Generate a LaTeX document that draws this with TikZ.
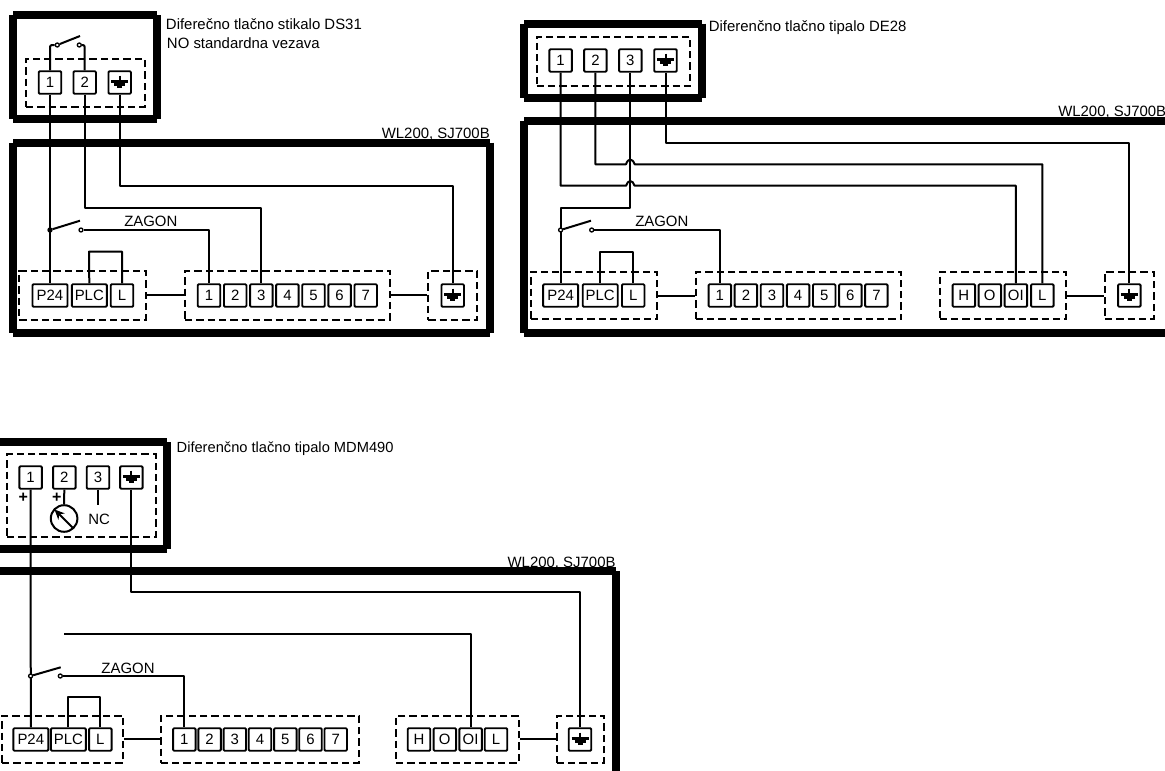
\documentclass[tikz,border=0pt]{standalone}
\usepackage{fontspec}
\setmainfont{Liberation Sans}
\usetikzlibrary{arrows.meta}
\def\px{0.75pt}
\tikzset{
  wire/.style={line width=2*\px,line join=round,black},
  heavy/.style={line width=8*\px,line cap=butt,black},
  grpbox/.style={draw=black,line width=2*\px,dash pattern=on 5.5pt off 3pt,inner sep=0,rectangle},
  term/.style={draw=black,fill=white,line width=1.9*\px,rounded corners=0.8pt,inner sep=0,minimum height=22.5*\px,minimum width=22.5*\px,font=\fontsize{11.2}{13}\selectfont},
  wterm/.style={term,minimum width=35*\px},
  contact/.style={circle,draw=black,fill=white,line width=1.3*\px,inner sep=0,minimum size=4*\px},
  lab/.style={inner sep=0,font=\fontsize{11.2}{13}\selectfont,black},
  gnd/.pic={
    \draw[line width=2*\px] (0,-7) -- (0,3);
    \draw[line width=2.8*\px] (-8.5,-1) -- (8.5,-1);
    \draw[line width=2.6*\px] (-5.5,1.8) -- (5.5,1.8);
    \draw[line width=2.4*\px] (-2.5,4.4) -- (2.5,4.4);
  }
}
\newcommand\hvybox[4]{%
  \draw[heavy] (#1,#2) -- (#3,#2);
  \draw[heavy] (#1,#4) -- (#3,#4);
  \draw[heavy] (#1,#2) -- (#1,#4);
  \draw[heavy] (#3,#2) -- (#3,#4);}
\newcommand\grp[5]{\node[grpbox,minimum width={(#4-#2)*\px},minimum height={(#5-#3)*\px}] (#1) at ({(#2+#4)/2},{(#3+#5)/2}) {};}
\begin{document}
\begin{tikzpicture}[x=0.75pt,y=-0.75pt]
\useasboundingbox (0,0) rectangle (1165,771);
\clip (0,0) rectangle (1165,771);
% ---------- panel A ----------
\node[lab,anchor=east] (aw) at (490,134.5) {WL200, SJ700B};
\node[lab,anchor=west] (at1) at (165.7,24) {Difere\v{c}no tla\v{c}no stikalo DS31};
\node[lab,anchor=west] (at2) at (166.7,43) {NO standardna vezava};
\node[lab] (az) at (150.8,221.7) {ZAGON};
\hvybox{13.3}{15}{156.7}{119.3}
\hvybox{13.3}{142.7}{490}{332.5}
\grp{asg}{26}{58.7}{144.7}{107.3}
\grp{ag1}{19.3}{271}{146}{319.5}
\grp{ag2}{185}{271}{390}{319.5}
\grp{ag3}{428.3}{271}{477.3}{319.5}
\node[term] (as1) at (50,82.5) {1};
\node[term] (as2) at (84.7,82.5) {2};
\node[term] (ase) at (119.7,82.5) {};
\node[wterm] (ap) at (50,295.5) {P24};
\node[wterm] (al2) at (89.3,295.5) {PLC};
\node[term] (al) at (122,295.5) {L};
\foreach \i/\x in {1/209,2/235.2,3/261.3,4/287.4,5/313.5,6/339.6,7/365.7}
  \node[term] (a\i) at (\x,295.5) {\i};
\node[term] (ae) at (452.7,295.5) {};
\pic at (ase.center) {gnd};
\pic at (ae.center) {gnd};
\node[contact] (ac1) at (57.3,45) {};
\node[contact] (ac2) at (79.3,45) {};
\coordinate (ab1) at (80,36);
\draw[wire,rounded corners=1.5pt] (as1.north) |- (ac1.west);
\draw[wire,rounded corners=1.5pt] (as2.north) |- (ac2.east);
\draw[wire] (ac1) -- (ab1);
\node[contact] (ac3) at (50,230) {};
\node[contact] (ac4) at (81,230) {};
\coordinate (ab2) at (80,220.7);
\draw[wire] (as1.south) -- (ap.north);
\draw[wire] (ac3) -- (ab2);
\draw[wire] (ac4.east) -| (a1.north);
\coordinate (ak1) at (84.7,207.7);
\draw[wire] (as2.south) -- (ak1) -| (a3.north);
\coordinate (ak2) at (119.7,185.7);
\draw[wire] (ase.south) -- (ak2) -| (ae.north);
\coordinate (aj) at (89,251.7);
\draw[wire] (al2.north) -- (aj) -| (al.north);
\draw[wire] (ag1.east) -- (ag2.west);
\draw[wire] (ag2.east) -- (ag3.west);
% ---------- panel B ----------
\node[lab,anchor=west] (bw) at (1058,112) {WL200, SJ700B};
\node[lab,anchor=west] (bt1) at (708.6,27.7) {Diferen\v{c}no tla\v{c}no tipalo DE28};
\node[lab] (bz) at (661.8,221.7) {ZAGON};
\hvybox{524.1}{23.5}{702}{97.5}
\hvybox{524.1}{121}{1169}{332.7}
\grp{bsg}{536.6}{36.7}{690.4}{85.7}
\grp{bg1}{530.8}{271.7}{657.2}{319.3}
\grp{bg2}{695.8}{271.7}{901.4}{319.3}
\grp{bg3}{939.6}{271.7}{1066.4}{319.3}
\grp{bg4}{1105}{271.7}{1153.5}{319.3}
\node[term] (bs1) at (560.6,60.5) {1};
\node[term] (bs2) at (595.4,60.5) {2};
\node[term] (bs3) at (630.3,60.5) {3};
\node[term] (bse) at (665.5,60.5) {};
\node[wterm] (bp) at (560.6,295.5) {P24};
\node[wterm] (bl2) at (600.2,295.5) {PLC};
\node[term] (bl) at (633.2,295.5) {L};
\foreach \i/\x in {1/719.8,2/745.9,3/772,4/798.1,5/824.2,6/850.3,7/876.4}
  \node[term] (b\i) at (\x,295.5) {\i};
\node[term] (bh) at (963.8,295.5) {H};
\node[term] (bo) at (989.8,295.5) {O};
\node[term] (boi) at (1015.8,295.5) {OI};
\node[term] (bll) at (1042.3,295.5) {L};
\node[term] (be) at (1129.3,295.5) {};
\pic at (bse.center) {gnd};
\pic at (be.center) {gnd};
\coordinate (bh1a) at (626,185.7);
\coordinate (bh1b) at (634.6,185.7);
\coordinate (bh2a) at (626,164.3);
\coordinate (bh2b) at (634.6,164.3);
\coordinate (bk1) at (560.6,185.7);
\coordinate (bk2) at (595.4,164.3);
\coordinate (bk3) at (630.3,208.3);
\coordinate (bk4) at (665.5,142.7);
\coordinate (bk5) at (560.6,208.3);
\draw[wire] (bs1.south) -- (bk1) -- (bh1a) .. controls (628,179.5) and (632.6,179.5) .. (bh1b) -| (boi.north);
\draw[wire] (bs2.south) -- (bk2) -- (bh2a) .. controls (628,158) and (632.6,158) .. (bh2b) -| (bll.north);
\draw[wire] (bs3.south) -- (bk3) -- (bk5) -- (bp.north);
\draw[wire] (bse.south) -- (bk4) -| (be.north);
\node[contact] (bc3) at (560.6,230) {};
\node[contact] (bc4) at (591.7,230) {};
\coordinate (bb2) at (591,220.7);
\draw[wire] (bc3) -- (bb2);
\draw[wire] (bc4.east) -| (b1.north);
\coordinate (bj) at (600.2,251.7);
\draw[wire] (bl2.north) -- (bj) -| (bl.north);
\draw[wire] (bg1.east) -- (bg2.west);
\draw[wire] (bg3.east) -- (bg4.west);
% ---------- panel C ----------
\node[lab,anchor=east] (cw) at (615.8,563) {WL200, SJ700B};
\node[lab,anchor=west,font=\fontsize{11}{13}\selectfont] (ct1) at (176.4,448.3) {Diferen\v{c}no tla\v{c}no tipalo MDM490};
\node[lab] (cz) at (128,668.3) {ZAGON};
\hvybox{-30}{442}{167.3}{548.8}
\hvybox{-30}{570.8}{615.5}{810}
\grp{csg}{7.1}{454.3}{155.6}{536.7}
\grp{cg1}{2}{716}{123.4}{762.7}
\grp{cg2}{160.7}{716}{359}{762.7}
\grp{cg3}{396}{716}{519}{762.7}
\grp{cg4}{556.7}{716}{604}{762.7}
\node[term] (cs1) at (30.6,477.5) {1};
\node[term] (cs2) at (64.3,477.5) {2};
\node[term] (cs3) at (98,477.5) {3};
\node[term] (cse) at (131.4,477.5) {};
\node[lab,font=\fontsize{12}{13}\selectfont\bfseries] (cp1) at (23.4,498) {+};
\node[lab,font=\fontsize{12}{13}\selectfont\bfseries] (cp2) at (56.7,498) {+};
\node[circle,draw=black,line width=2*\px,minimum size=26.6*\px,inner sep=0] (cm) at (64.1,518.5) {};
\coordinate (cm1) at (72.7,527.7);
\coordinate (cm2) at (54.5,509.5);
\draw[wire,-{Stealth[length=10*\px,width=9*\px]}] (cm1) -- (cm2);
\draw[wire] (cs2.south) -- (cm.north);
\coordinate (cn) at (98,505.3);
\draw[wire] (cs3.south) -- (cn);
\node[lab] (cnc) at (99.2,519.3) {NC};
\node[wterm] (cp) at (30.8,739.5) {P24};
\node[wterm] (cl2) at (68.4,739.5) {PLC};
\node[term] (cl) at (100.3,739.5) {L};
\foreach \i/\x in {1/184.3,2/209.6,3/234.8,4/260,5/285.3,6/310.5,7/335.7}
  \node[term] (c\i) at (\x,739.5) {\i};
\node[term] (ch) at (419,739.5) {H};
\node[term] (co) at (444.8,739.5) {O};
\node[term] (coi) at (470.6,739.5) {OI};
\node[term] (cll) at (496,739.5) {L};
\node[term] (ce) at (580,739.5) {};
\pic at (cse.center) {gnd};
\pic at (ce.center) {gnd};
\draw[wire] (cs1.south) -- (cp.north);
\node[contact] (cc3) at (30.6,676) {};
\node[contact] (cc4) at (60.3,676) {};
\coordinate (cb2) at (60.7,667.3);
\draw[wire] (cc3) -- (cb2);
\draw[wire] (cc4.east) -| (c1.north);
\coordinate (ck1) at (64.3,633.7);
\draw[wire] (ck1) -| (coi.north);
\coordinate (ck2) at (131.4,591.7);
\draw[wire] (cse.south) -- (ck2) -| (ce.north);
\coordinate (cj) at (68.4,696.7);
\draw[wire] (cl2.north) -- (cj) -| (cl.north);
\draw[wire] (cg1.east) -- (cg2.west);
\draw[wire] (cg3.east) -- (cg4.west);
\end{tikzpicture}
\end{document}
